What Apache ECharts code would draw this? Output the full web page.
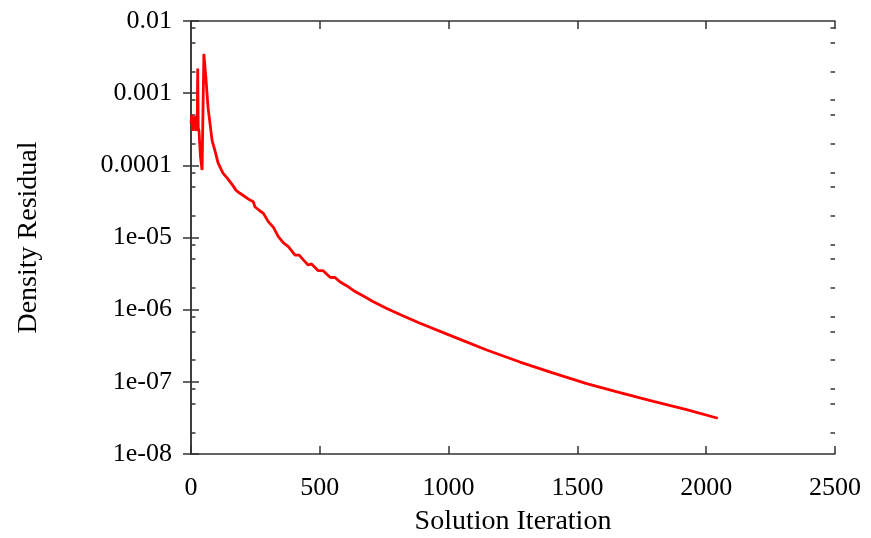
<!DOCTYPE html>
<html>
<head>
<meta charset="utf-8">
<script src="https://cdn.jsdelivr.net/npm/echarts@6/dist/echarts.min.js"></script>
<style>
html,body{margin:0;padding:0;background:#fff;}
#chart{width:871px;height:538px;}
</style>
</head>
<body>
<div id="chart"></div>
<script>
// Data
const iterations = [0, 3, 6, 9, 12, 15, 18, 21, 24, 26, 28, 31, 37, 43, 50, 58, 66, 75, 82, 93, 105, 124, 140, 160, 175, 190, 229, 242, 248, 268, 281, 300, 320, 339, 358, 378, 404, 420, 436, 455, 468, 494, 513, 540, 559, 578, 604, 637, 669, 708, 760, 820, 889, 1018, 1148, 1277, 1407, 1536, 1665, 1795, 1924, 2045];
const densityResidual = [3.8e-4, 5.0e-4, 3.0e-4, 4.6e-4, 3.2e-4, 4.8e-4, 3.0e-4, 4.2e-4, 3.0e-4, 2.2e-3, 3.3e-4, 3.0e-4, 1.3e-4, 8.6e-5, 3.5e-3, 1.6e-3, 6.4e-4, 3.5e-4, 2.2e-4, 1.6e-4, 1.08e-4, 7.8e-5, 6.7e-5, 5.4e-5, 4.5e-5, 4.1e-5, 3.3e-5, 3.13e-5, 2.67e-5, 2.33e-5, 2.16e-5, 1.66e-5, 1.38e-5, 1.03e-5, 8.5e-6, 7.5e-6, 5.7e-6, 5.7e-6, 4.9e-6, 4.16e-6, 4.3e-6, 3.47e-6, 3.47e-6, 2.81e-6, 2.79e-6, 2.44e-6, 2.15e-6, 1.78e-6, 1.55e-6, 1.29e-6, 1.04e-6, 8.3e-7, 6.47e-7, 4.23e-7, 2.76e-7, 1.88e-7, 1.32e-7, 9.44e-8, 7.08e-8, 5.37e-8, 4.12e-8, 3.13e-8];
const xTicks = [0, 500, 1000, 1500, 2000, 2500];
const xTickLabels = ['0', '500', '1000', '1500', '2000', '2500'];
const yTicks = [1e-8, 1e-7, 1e-6, 1e-5, 1e-4, 1e-3, 1e-2];
const yTickLabels = ['1e-08', '1e-07', '1e-06', '1e-05', '0.0001', '0.001', '0.01'];
const yMinorTicks = [2e-8, 5e-8, 8e-8, 2e-7, 5e-7, 8e-7, 2e-6, 5e-6, 8e-6, 2e-5, 5e-5, 8e-5, 2e-4, 5e-4, 8e-4, 2e-3, 5e-3, 8e-3];
const xTitle = 'Solution Iteration';
const yTitle = 'Density Residual';

const FONT = '"Liberation Serif", "DejaVu Serif", serif';
const AX = '#333333';
const seriesData = iterations.map((x, i) => [x, densityResidual[i]]);

function yLabel(v) {
  const e = Math.round(Math.log10(v));
  const idx = yTicks.findIndex(t => Math.round(Math.log10(t)) === e);
  return idx >= 0 ? yTickLabels[idx] : '';
}
function xLabel(v) {
  const idx = xTicks.findIndex(t => Math.abs(t - v) < 1e-6);
  return idx >= 0 ? xTickLabels[idx] : '';
}

function logAxis(pos, opts) {
  return Object.assign({
    type: 'log',
    logBase: 10,
    min: 1e-8,
    max: 1e-2,
    position: pos,
    splitLine: { show: false },
    minorSplitLine: { show: false },
    axisLine: { show: true, lineStyle: { color: AX, width: 1.5 } },
    axisLabel: { show: false },
    axisTick: { show: true, inside: true, length: 8, lineStyle: { color: AX, width: 1.5 }, customValues: yTicks }
  }, opts || {});
}

const chart = echarts.init(document.getElementById('chart'), null, { renderer: 'canvas' });
chart.setOption({
  backgroundColor: '#ffffff',
  animation: false,
  grid: { left: 191, top: 21, right: 36, bottom: 84, containLabel: false, outerBoundsMode: 'none' },
  xAxis: [
    {
      type: 'value', min: 0, max: 2500, interval: 500, position: 'bottom',
      name: xTitle, nameLocation: 'middle', nameGap: 54,
      nameTextStyle: { fontFamily: FONT, fontSize: 28, color: '#000' },
      splitLine: { show: false },
      axisLine: { show: true, lineStyle: { color: AX, width: 1.5 } },
      axisTick: { show: true, inside: true, length: 8, lineStyle: { color: AX, width: 1.5 }, customValues: xTicks },
      axisLabel: { show: true, margin: 21, fontFamily: FONT, fontSize: 26, color: '#000', customValues: xTicks, formatter: xLabel, showMinLabel: true, showMaxLabel: true }
    },
    {
      type: 'value', min: 0, max: 2500, interval: 500, position: 'top',
      splitLine: { show: false },
      axisLine: { show: true, lineStyle: { color: AX, width: 1.5 } },
      axisTick: { show: true, inside: true, length: 8, lineStyle: { color: AX, width: 1.5 }, customValues: xTicks },
      axisLabel: { show: false }
    }
  ],
  yAxis: [
    logAxis('left', {
      name: yTitle, nameLocation: 'middle', nameGap: 148,
      nameTextStyle: { fontFamily: FONT, fontSize: 28, color: '#000' },
      axisLabel: { show: true, margin: 19, fontFamily: FONT, fontSize: 26, color: '#000', customValues: yTicks, formatter: yLabel, showMinLabel: true, showMaxLabel: true }
    }),
    logAxis('right'),
    logAxis('left', { axisLine: { show: false }, axisTick: { show: true, inside: true, length: 4.5, lineStyle: { color: AX, width: 1.5 }, customValues: yMinorTicks } }),
    logAxis('right', { axisLine: { show: false }, axisTick: { show: true, inside: true, length: 4.5, lineStyle: { color: AX, width: 1.5 }, customValues: yMinorTicks } })
  ],
  series: [{
    type: 'line',
    xAxisIndex: 0,
    yAxisIndex: 0,
    data: seriesData,
    showSymbol: false,
    symbol: 'none',
    smooth: false,
    lineStyle: { color: '#ff0000', width: 2.8 },
    z: 1
  }]
});
</script>
</body>
</html>
